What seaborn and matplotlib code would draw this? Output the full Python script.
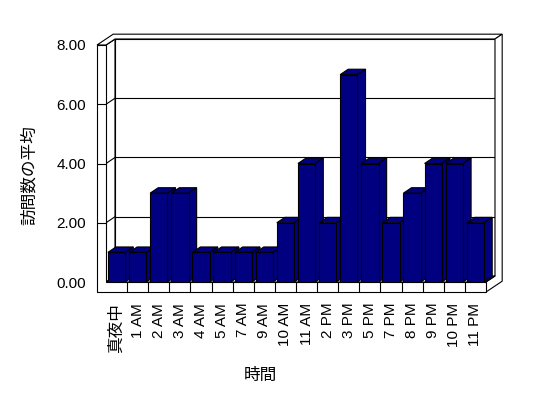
import matplotlib
matplotlib.use("Agg")
import matplotlib.pyplot as plt
from matplotlib.patches import Polygon
import pandas as pd
import seaborn as sns

# data
hours = ["真夜中", "1 AM", "2 AM", "3 AM", "4 AM", "5 AM", "7 AM", "9 AM", "10 AM",
         "11 AM", "2 PM", "3 PM", "5 PM", "7 PM", "8 PM", "9 PM", "10 PM", "11 PM"]
visits = [1, 1, 3, 3, 1, 1, 1, 1, 2, 4, 2, 7, 4, 2, 3, 4, 4, 2]
y_ticks = [0, 2, 4, 6, 8]
y_tick_labels = ["0.00", "2.00", "4.00", "6.00", "8.00"]

sns.set_style("white")
plt.rcParams['font.family'] = ['Liberation Sans', 'Noto Sans CJK JP']
plt.rcParams['font.size'] = 11
for key in ['text.color', 'axes.labelcolor', 'xtick.color', 'ytick.color']:
    plt.rcParams[key] = 'black'

# fake 3d: one depth step in data units, wall / floor thickness
DX, DY = 0.426, 0.203
LW, FT = 0.426, 0.338
BD = 0.9
BACK = 1.8
LINE = 0.8


def proj(x, v, d):
    return (x + d * DX, v + d * DY)


def face(ax, pts, fc="white", z=1):
    ax.add_patch(Polygon(pts, closed=True, facecolor=fc, edgecolor="black",
                         linewidth=LINE, zorder=z, clip_on=False))


def line(ax, p, q, z=1.5):
    ax.plot([p[0], q[0]], [p[1], q[1]], color="black", lw=LINE, zorder=z, clip_on=False)


fig = plt.figure(figsize=(5.48, 3.98), dpi=100)
ax = fig.add_axes([106 / 548, 116 / 398, 380 / 548, 237 / 398])

df = pd.DataFrame({"時間": hours, "訪問数の平均": visits})
sns.barplot(data=df, x="時間", y="訪問数の平均", color="#000080", saturation=1,
            width=0.82, edgecolor="black", linewidth=LINE, errorbar=None, ax=ax)

x0, x1 = -0.5, len(hours) - 0.5
top = y_ticks[-1]

# back wall, inner side
face(ax, [proj(x0, 0, 1), proj(x1, 0, 1), proj(x1, top, 1), proj(x0, top, 1)], z=1)
for v in y_ticks[1:-1]:
    line(ax, proj(x0, v, 1), proj(x1, v, 1))
# left wall inner face
face(ax, [proj(x0, 0, 0), proj(x0, 0, 1), proj(x0, top, 1), proj(x0, top, 0)], z=1.6)
for v in y_ticks[1:]:
    line(ax, proj(x0, v, 0), proj(x0, v, 1), z=1.7)
# floor top
face(ax, [proj(x0, 0, 0), proj(x1, 0, 0), proj(x1, 0, 1), proj(x0, 0, 1)], z=1.8)
# top of walls
face(ax, [proj(x0 - LW, top, 0), proj(x0, top, 0), proj(x0, top, 1), proj(x1, top, 1),
          proj(x1, top, BACK), proj(x0 - LW, top, BACK)], z=1.9)
# right end of back wall + floor
face(ax, [proj(x1, 0, 0), proj(x1, 0, 1), proj(x1, top, 1), proj(x1, top, BACK),
          proj(x1, -FT, BACK), proj(x1, -FT, 0)], z=1.9)
line(ax, proj(x1, 0, 0), proj(x1, 0, 1), z=1.95)
# front of left wall and floor
face(ax, [proj(x0 - LW, -FT, 0), proj(x1, -FT, 0), proj(x1, 0, 0), proj(x0, 0, 0),
          proj(x0, top, 0), proj(x0 - LW, top, 0)], z=2)
for v in y_ticks[1:-1]:
    line(ax, proj(x0 - LW, v, 0), proj(x0, v, 0), z=2.1)
for k in range(len(hours) - 1):
    line(ax, (k + 0.5, -FT), (k + 0.5, 0), z=2.1)

# bars: add top and side faces, left to right
for i, p in enumerate(ax.patches[:len(hours)]):
    z = 5 + i * 0.1
    bx, bw, bh = p.get_x(), p.get_width(), p.get_height()
    p.set_zorder(z + 0.05)
    face(ax, [proj(bx, bh, 0), proj(bx + bw, bh, 0), proj(bx + bw, bh, BD), proj(bx, bh, BD)],
         fc="#000080", z=z)
    face(ax, [proj(bx + bw, 0, 0), proj(bx + bw, bh, 0), proj(bx + bw, bh, BD), proj(bx + bw, 0, BD)],
         fc="#000080", z=z)

ax.set_xlim(x0, x1)
ax.set_ylim(0, top)
ax.set_yticks(y_ticks)
ax.set_yticklabels(y_tick_labels)
ax.set_xticks(range(len(hours)))
ax.set_xticklabels(hours, rotation=90)
ax.get_xticklabels()[0].set_fontsize(12)
ax.tick_params(axis="y", length=0, pad=14.4)
ax.tick_params(axis="x", length=0, pad=15)
for s in ax.spines.values():
    s.set_visible(False)
ax.set_facecolor("none")

ax.set_xlabel("時間", fontfamily="Noto Sans CJK JP", fontsize=12)
ax.set_ylabel("訪問数の平均", fontfamily="Noto Sans CJK JP", fontsize=12)
ax.xaxis.set_label_coords(0.405, -0.36)
ax.yaxis.set_label_coords(-0.18, 0.45)

fig.savefig("out.png", dpi=100, facecolor="white")
